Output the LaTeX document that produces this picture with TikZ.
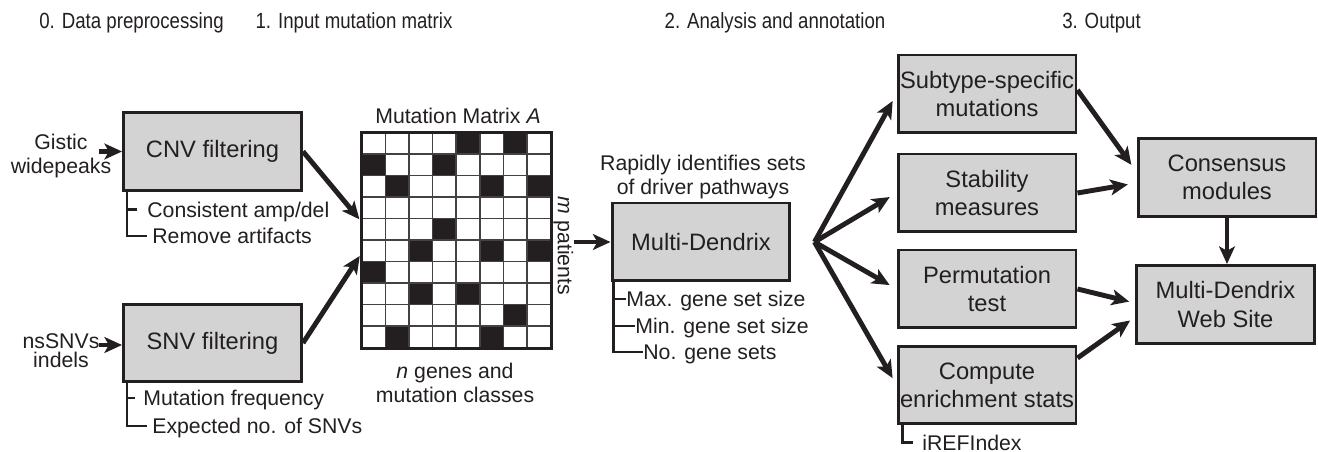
\documentclass[tikz,border=0pt]{standalone}
\usepackage{fontspec}
\setmainfont{Liberation Sans}
\usetikzlibrary{arrows.meta}
\definecolor{boxgray}{RGB}{211,211,211}
\definecolor{ink}{RGB}{35,31,32}
\newcommand{\narrowtext}[1]{\scalebox{0.85}[1]{#1}}

\begin{document}
\begin{tikzpicture}[x=0.02cm,y=-0.02cm,color=ink]
  \tikzstyle{StepStyle}=[font=\fontsize{12.5}{15}\selectfont,inner sep=0pt,text height=8.95pt,text depth=0pt]
  \tikzstyle{BoxStyle}=[draw=ink,fill=boxgray,line width=1.7pt,minimum width=3.56cm,minimum height=1.56cm,inner sep=0pt,align=center,font=\fontsize{13.5}{16}\selectfont]
  \tikzstyle{NoteStyle}=[font=\fontsize{12.1}{14}\selectfont,inner sep=0pt,text height=8.7pt,text depth=0pt]
  \tikzstyle{LabelStyle}=[font=\fontsize{12.1}{14}\selectfont,inner sep=0pt,align=center]
  \tikzstyle{EdgeStyle}=[line width=2.8pt,-{Stealth[length=10pt,width=9pt,inset=2.5pt]}]
  \tikzstyle{BarStyle}=[line width=1.5pt]
  \tikzstyle{GridStyle}=[line width=0.9pt,draw=ink!85]
  \useasboundingbox (0,0) rectangle (1318,452);

  % stage headings
  \node[StepStyle] (S0) at (131.5,20.5) {\narrowtext{0. Data preprocessing}};
  \node[StepStyle] (S1) at (354,20.5) {\narrowtext{1. Input mutation matrix}};
  \node[StepStyle] (S2) at (775,20.5) {\narrowtext{2. Analysis and annotation}};
  \node[StepStyle] (S3) at (1101.5,20.5) {\narrowtext{3. Output}};

  % preprocessing
  \node[BoxStyle] (CNV) at (212.5,151.5) {CNV filtering};
  \node[BoxStyle] (SNV) at (212.5,343) {SNV filtering};
  \node[LabelStyle] (Gis) at (61,156) {Gistic\\widepeaks};
  \node[LabelStyle,font=\fontsize{12.1}{11}\selectfont] (Ins) at (61,351) {nsSNVs\\indels};
  \draw[EdgeStyle] ([xshift=-0.46cm]CNV.west) -- (CNV.west);
  \draw[EdgeStyle] ([xshift=-0.46cm,yshift=-0.04cm]SNV.west) -- ([yshift=-0.04cm]SNV.west);

  \node[NoteStyle,anchor=west] (Amp) at (147,209.5) {Consistent amp/del};
  \node[NoteStyle,anchor=west] (Art) at (152,236) {Remove artifacts};
  \node[NoteStyle,anchor=west] (Frq) at (143,398) {Mutation frequency};
  \node[NoteStyle,anchor=west] (Exp) at (152,426) {Expected no. of SNVs};
  \coordinate (CnvBar) at ([xshift=0.1cm]CNV.south west);
  \draw[BarStyle] (CnvBar) |- ([xshift=-0.1cm]Art.west);
  \draw[BarStyle] (CnvBar |- Amp.west) -- ([xshift=-0.2cm]Amp.west);
  \coordinate (SnvBar) at ([xshift=0.1cm]SNV.south west);
  \draw[BarStyle] (SnvBar) |- ([xshift=-0.1cm]Exp.west);
  \draw[BarStyle] (SnvBar |- Frq.west) -- ([xshift=-0.16cm]Frq.west);

  % mutation matrix, 10 patients x 8 genes
  \node[fill=white,minimum width=3.78cm,minimum height=4.3cm,inner sep=0pt] (A) at (456.5,240.5) {};
  \begin{scope}[shift={(A.north west)},x=0.4725cm,y=-0.43cm]
    \foreach \c/\r in {4/0,6/0,0/1,3/1,1/2,5/2,7/2,3/4,2/5,5/5,7/5,0/6,2/7,4/7,6/8,1/9,5/9}
      \fill[ink] (\c,\r) rectangle +(1,1);
    \foreach \c in {1,...,7}
      \draw[GridStyle] (\c,0) -- (\c,10);
    \foreach \r in {1,...,9}
      \draw[GridStyle] (0,\r) -- (8,\r);
  \end{scope}
  \draw[line width=1.7pt] (A.north west) rectangle (A.south east);
  \node[NoteStyle] (MatT) at (458,115.7) {Mutation Matrix \textit{A}};
  \node[LabelStyle] (Gen) at (455,383) {\textit{n} genes and\\mutation classes};
  \node[NoteStyle,rotate=-90] (Pat) at (565.5,246) {\textit{m} patients};
  \draw[EdgeStyle,shorten >=2pt] (CNV.east) -- ([yshift=0.37cm]A.west);
  \draw[EdgeStyle,shorten >=2pt] (SNV.east) -- ([yshift=-0.25cm]A.west);

  % analysis
  \node[BoxStyle] (MD) at (701,242) {Multi-Dendrix};
  \node[LabelStyle] (Rap) at (703,177) {Rapidly identifies sets\\of driver pathways};
  \draw[EdgeStyle] (MD.west -| Pat.north) -- (MD.west);
  \node[NoteStyle,anchor=west] (Max) at (626,299) {Max. gene set size};
  \node[NoteStyle,anchor=west] (Min) at (635,326) {Min. gene set size};
  \node[NoteStyle,anchor=west] (Num) at (643,352) {No. gene sets};
  \coordinate (MdBar) at ([xshift=0.06cm]MD.south west);
  \draw[BarStyle] (MdBar) |- (Num.west);
  \draw[BarStyle] (MdBar |- Max.west) -- (Max.west);
  \draw[BarStyle] (MdBar |- Min.west) -- (Min.west);

  \node[BoxStyle] (Sub) at (987,94) {Subtype-specific\\mutations};
  \node[BoxStyle] (Stab) at (987,193) {Stability\\measures};
  \node[BoxStyle] (Perm) at (987,289) {Permutation\\test};
  \node[BoxStyle] (Enr) at (987,385) {Compute\\enrichment stats};
  \coordinate (Fan) at ([xshift=0.46cm]MD.east);
  \foreach \t in {Sub,Stab,Perm,Enr}
    \draw[EdgeStyle,shorten >=4.5pt] (Fan) -- (\t.west);
  \node[NoteStyle,anchor=west] (Ref) at (922,442.5) {iREFIndex};
  \coordinate (EnrBar) at ([xshift=0.12cm]Enr.south west);
  \draw[BarStyle] (EnrBar) |- ([xshift=-0.18cm]Ref.west);

  % output
  \node[BoxStyle] (Cons) at (1227,177.5) {Consensus\\modules};
  \node[BoxStyle] (Web) at (1225.5,304.5) {Multi-Dendrix\\Web Site};
  \draw[EdgeStyle,shorten >=5pt] ([yshift=0.08cm]Sub.east) -- ([yshift=0.11cm]Cons.west);
  \draw[EdgeStyle,shorten >=5pt] (Stab.east) -- ([yshift=-0.11cm]Cons.west);
  \draw[EdgeStyle,shorten >=3.4pt] (Perm.east) -- ([yshift=0.03cm]Web.west);
  \draw[EdgeStyle,shorten >=3.4pt] ([yshift=0.54cm]Enr.east) -- ([yshift=-0.25cm]Web.west);
  \draw[EdgeStyle] (Cons.south) -- (Cons.south |- Web.north);
\end{tikzpicture}
\end{document}
